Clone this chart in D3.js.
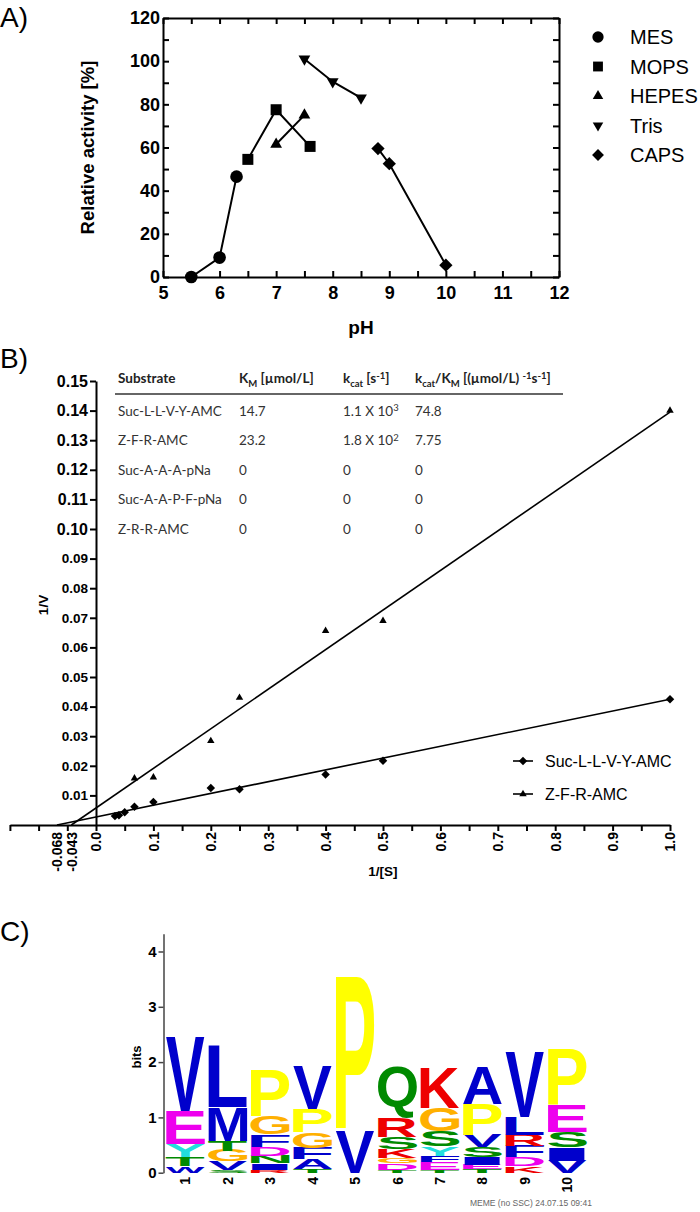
<!DOCTYPE html>
<html>
<head>
<meta charset="utf-8">
<script src="https://cdn.jsdelivr.net/npm/d3@7"></script>
<style>
body { margin:0; background:#fff; }
text { font-family: "Liberation Sans", Arial, sans-serif; }
.tbl { font-family: Lato, "Open Sans", sans-serif; }
</style>
</head>
<body>
<svg id="fig" width="700" height="1212"></svg>
<script>
// ---------- panel A : pH profile ----------
var bufferNames = ["MES", "MOPS", "HEPES", "Tris", "CAPS"];
var mesPH = [5.5, 6.0, 6.3],   mesAct = [0, 9, 46.5];
var mopsPH = [6.5, 7.0, 7.6],  mopsAct = [54.5, 77.5, 60.5];
var hepesPH = [7.0, 7.5],      hepesAct = [61.5, 75];
var trisPH = [7.5, 8.0, 8.5],  trisAct = [101, 90.5, 83];
var capsPH = [8.8, 9.0, 10.0], capsAct = [59.5, 52.5, 5.5];

// ---------- panel B : Lineweaver-Burk ----------
var substrates = ["Suc-L-L-V-Y-AMC", "Z-F-R-AMC"];
var llvyS = [0.033, 0.04, 0.05, 0.067, 0.1, 0.2, 0.25, 0.4, 0.5, 1.0];
var llvyV = [0.0030, 0.0033, 0.0043, 0.0062, 0.0078, 0.0125, 0.0121, 0.0171, 0.0217, 0.0425];
var zfrS = [0.067, 0.1, 0.2, 0.25, 0.4, 0.5, 1.0];
var zfrV = [0.0158, 0.0161, 0.0284, 0.0430, 0.0656, 0.0690, 0.1400];
var fitStartS = [-0.068, -0.043];   // x-intercepts
var fitEndV = [0.0425, 0.1395];     // fitted 1/V at 1/[S] = 1
var interceptLabels = [-0.068, -0.043];

var tableSubstrates = ["Suc-L-L-V-Y-AMC", "Z-F-R-AMC", "Suc-A-A-A-pNa", "Suc-A-A-P-F-pNa", "Z-R-R-AMC"];
var tableKm = ["14.7", "23.2", "0", "0", "0"];
var tableKcat = [[["1.1 X 10", ""], ["3", "sup"]], [["1.8 X 10", ""], ["2", "sup"]], "0", "0", "0"];
var tableKcatKm = ["74.8", "7.75", "0", "0", "0"];
var tableHead = [
  [["Substrate", ""]],
  [["K", ""], ["M", "sub"], [" [µmol/L]", ""]],
  [["k", ""], ["cat", "sub"], [" [s", ""], ["-1", "sup"], ["]", ""]],
  [["k", ""], ["cat", "sub"], ["/K", ""], ["M", "sub"], [" [(µmol/L) ", ""], ["-1", "sup"], ["s", ""], ["-1", "sup"], ["]", ""]]
];

// ---------- panel C : sequence logo ----------
var logoPos = [1, 2, 3, 4, 5, 6, 7, 8, 9, 10];
var logoLetters = ["WTYEV", "SVGTML", "RINDFGP", "TAFGPV", "VP", "TDGKSRQ", "TEFYSGK", "TEISVPA", "KDFRLV", "VISEP"];
var logoBits = [
  [0.12, 0.16, 0.24, 0.60, 1.34],
  [0.05, 0.15, 0.20, 0.18, 0.60, 1.10],
  [0.05, 0.12, 0.13, 0.17, 0.22, 0.32, 0.84],
  [0.07, 0.18, 0.20, 0.28, 0.42, 0.78],
  [0.76, 2.78],
  [0.05, 0.12, 0.10, 0.16, 0.22, 0.34, 0.92],
  [0.05, 0.14, 0.12, 0.16, 0.28, 0.42, 0.72],
  [0.06, 0.08, 0.14, 0.18, 0.22, 0.56, 0.68],
  [0.12, 0.17, 0.20, 0.20, 0.32, 1.18],
  [0.22, 0.24, 0.28, 0.48, 1.00]
];
var aaColor = {};
"ACFILVWM".split("").forEach(function(c){ aaColor[c] = "#0000cc"; });
"NQST".split("").forEach(function(c){ aaColor[c] = "#008a00"; });
"DE".split("").forEach(function(c){ aaColor[c] = "#ee00ee"; });
"KR".split("").forEach(function(c){ aaColor[c] = "#ee0000"; });
"HY".split("").forEach(function(c){ aaColor[c] = "#22dddd"; });
aaColor.G = "#ffb000"; aaColor.P = "#ffff00";

var svg = d3.select("#fig");

function styleAxis(g, size, weight, sw) {
  g.selectAll("text").style("font-size", size + "px").style("font-weight", weight).attr("fill", "#000");
  g.selectAll("path,line").attr("stroke", "#000").attr("stroke-width", sw);
}

// panel letters
[["A)", 27], ["B)", 368], ["C)", 941]].forEach(function(p){
  svg.append("text").attr("x", 0).attr("y", p[1]).style("font-size", "28px").text(p[0]);
});

// ===== A =====
var xA = d3.scaleLinear().domain([5, 12]).range([163, 559]);
var yA = d3.scaleLinear().domain([0, 120]).range([277, 18]);
var gA = svg.append("g");
var phTicks = d3.range(5, 12.01, 0.5), actTicks = d3.range(0, 121, 10);

gA.append("g").attr("transform", "translate(0,277)")
  .call(d3.axisBottom(xA).tickValues(phTicks).tickFormat(function(d){ return d % 1 === 0 ? d : ""; })
    .tickSize(-6).tickSizeOuter(0).tickPadding(9))
  .call(styleAxis, 18, "bold", 2);
gA.append("g").attr("transform", "translate(0,18)")
  .call(d3.axisTop(xA).tickValues(phTicks).tickFormat("").tickSize(-6).tickSizeOuter(0))
  .call(styleAxis, 18, "bold", 2);
gA.append("g").attr("transform", "translate(163,0)")
  .call(d3.axisLeft(yA).tickValues(actTicks).tickFormat(function(d){ return d % 20 === 0 ? d : ""; })
    .tickSize(-6).tickSizeOuter(0).tickPadding(3))
  .call(styleAxis, 18, "bold", 2);
gA.append("g").attr("transform", "translate(559,0)")
  .call(d3.axisRight(yA).tickValues(actTicks).tickFormat("").tickSize(-6).tickSizeOuter(0))
  .call(styleAxis, 18, "bold", 2);

gA.append("text").attr("transform", "translate(94,147.5) rotate(-90)").attr("text-anchor", "middle")
  .style("font-size", "18.5px").style("font-weight", "bold").text("Relative activity [%]");
gA.append("text").attr("x", 361).attr("y", 334).attr("text-anchor", "middle")
  .style("font-size", "19px").style("font-weight", "bold").text("pH");

var seriesA = [
  { x: mesPH, y: mesAct, sym: d3.symbolCircle, size: 125, rot: 0 },
  { x: mopsPH, y: mopsAct, sym: d3.symbolSquare, size: 121, rot: 0 },
  { x: hepesPH, y: hepesAct, sym: d3.symbolTriangle, size: 60, rot: 0 },
  { x: trisPH, y: trisAct, sym: d3.symbolTriangle, size: 60, rot: 180 },
  { x: capsPH, y: capsAct, sym: d3.symbolSquare, size: 88, rot: 45 }
];
var lineA = d3.line().x(function(d){ return xA(d[0]); }).y(function(d){ return yA(d[1]); });
seriesA.forEach(function(s, i){
  var pts = d3.zip(s.x, s.y);
  gA.append("path").datum(pts).attr("d", lineA).attr("fill", "none").attr("stroke", "#000").attr("stroke-width", 2);
  gA.selectAll(".m" + i).data(pts).join("path")
    .attr("transform", function(d){ return "translate(" + xA(d[0]) + "," + yA(d[1]) + ") rotate(" + s.rot + ")"; })
    .attr("d", d3.symbol(s.sym, s.size));
  // legend
  var ly = 37 + i * 29.5;
  gA.append("path").attr("transform", "translate(598," + ly + ") rotate(" + s.rot + ")")
    .attr("d", d3.symbol(s.sym, s.size * 0.8));
  gA.append("text").attr("x", 630).attr("y", ly).attr("dy", "0.36em")
    .style("font-size", "20px").text(bufferNames[i]);
});

// ===== B =====
var xB = d3.scaleLinear().domain([-0.15, 1.0]).range([9.9, 670]);
var yB = d3.scaleLinear().domain([0, 0.15]).range([825, 381]);
var gB = svg.append("g");

var gy = gB.append("g").attr("transform", "translate(" + xB(0) + ",0)")
  .call(d3.axisLeft(yB).tickValues(d3.range(1, 16).map(function(i){ return i / 100; }))
    .tickFormat(d3.format(".2f")).tickSize(6).tickSizeOuter(0).tickPadding(2))
  .call(styleAxis, 13, "bold", 2);
gy.selectAll("text").style("font-size", function(d){ return d > 0.095 ? "16px" : "13.5px"; });

gB.append("g").attr("transform", "translate(0," + yB(0) + ")")
  .call(d3.axisBottom(xB).tickValues(d3.range(-3, 21).map(function(i){ return i * 0.05; }))
    .tickFormat("").tickSize(6).tickSizeOuter(0))
  .call(styleAxis, 13, "bold", 2);
var xLab = interceptLabels.concat(d3.range(0, 11).map(function(i){ return i / 10; }));
var gxl = gB.append("g").attr("transform", "translate(0," + yB(0) + ")")
  .call(d3.axisBottom(xB).tickValues(xLab)
    .tickFormat(function(d){ return d < 0 ? "-" + d3.format(".3f")(-d) : d3.format(".1f")(d); })
    .tickSize(0).tickSizeOuter(0));
gxl.select(".domain").remove();
gxl.selectAll("text").attr("transform", "rotate(-90)").attr("x", -7).attr("y", 0).attr("dy", "0.35em")
  .style("text-anchor", "end").style("font-size", "14px").style("font-weight", "bold");

gB.append("text").attr("transform", "translate(48,605) rotate(-90)").attr("text-anchor", "middle")
  .style("font-size", "13.5px").style("font-weight", "bold").text("1/V");
gB.append("text").attr("x", xB(0.5)).attr("y", 876).attr("text-anchor", "middle")
  .style("font-size", "13.5px").style("font-weight", "bold").text("1/[S]");

var lineB = d3.line().x(function(d){ return xB(d[0]); }).y(function(d){ return yB(d[1]); });
var seriesB = [
  { s: llvyS, v: llvyV, sym: d3.symbolSquare, size: 36, rot: 45 },
  { s: zfrS, v: zfrV, sym: d3.symbolTriangle, size: 24, rot: 0 }
];
seriesB.forEach(function(sr, i){
  gB.append("path").datum([[fitStartS[i], 0], [1.0, fitEndV[i]]]).attr("d", lineB)
    .attr("fill", "none").attr("stroke", "#000").attr("stroke-width", 1.6);
  gB.selectAll(".b" + i).data(d3.zip(sr.s, sr.v)).join("path")
    .attr("transform", function(d){ return "translate(" + xB(d[0]) + "," + yB(d[1]) + ") rotate(" + sr.rot + ")"; })
    .attr("d", d3.symbol(sr.sym, sr.size));
  var ly = 761 + i * 33;
  gB.append("line").attr("x1", 513).attr("x2", 533).attr("y1", ly).attr("y2", ly).attr("stroke", "#000").attr("stroke-width", 1.6);
  gB.append("path").attr("transform", "translate(523," + ly + ") rotate(" + sr.rot + ")").attr("d", d3.symbol(sr.sym, sr.size));
  gB.append("text").attr("x", 545).attr("y", ly).attr("dy", "0.36em").style("font-size", "16px").text(substrates[i]);
});

// table
var colX = [118, 239, 343, 415];
function richText(sel, segs) {
  if (typeof segs === "string") segs = [[segs, ""]];
  var shift = 0;
  segs.forEach(function(sg){
    var target = sg[1] === "sub" ? 3.5 : sg[1] === "sup" ? -4.5 : 0;
    sel.append("tspan").attr("dy", target - shift)
      .style("font-size", sg[1] ? "9.5px" : null).text(sg[0]);
    shift = target;
  });
}
var gT = gB.append("g").attr("class", "tbl");
tableHead.forEach(function(h, j){
  var t = gT.append("text").attr("class", "tbl").attr("x", colX[j]).attr("y", 383)
    .style("font-size", "13.5px").style("font-weight", "bold").attr("fill", "#222");
  richText(t, h);
});
gT.append("line").attr("x1", 115).attr("x2", 563).attr("y1", 394).attr("y2", 394).attr("stroke", "#333").attr("stroke-width", 1.5);
var tableCols = [tableSubstrates, tableKm, tableKcat, tableKcatKm];
tableSubstrates.forEach(function(s, r){
  var ry = yB(0.14 - r * 0.01) + 5;
  tableCols.forEach(function(col, j){
    var t = gT.append("text").attr("class", "tbl").attr("x", colX[j]).attr("y", ry)
      .style("font-size", "13.5px").attr("fill", "#333");
    richText(t, col[r]);
  });
});

// ===== C =====
var yC = d3.scaleLinear().domain([0, 4.32]).range([1172.7, 933.8]);
var xC = d3.scaleBand().domain(logoPos).range([164.5, 588]).paddingInner(0.08).paddingOuter(0.03);
var gC = svg.append("g");
gC.append("g").attr("transform", "translate(163.5,0)")
  .call(d3.axisLeft(yC).tickValues([0, 1, 2, 3, 4]).tickFormat(d3.format("d")).tickSize(5).tickSizeOuter(0).tickPadding(2))
  .call(styleAxis, 15, "bold", 1.5)
  .selectAll("path,line").attr("stroke", "#444");
gC.append("text").attr("transform", "translate(141,1057) rotate(-90)").attr("text-anchor", "middle")
  .style("font-size", "13px").style("font-weight", "bold").text("bits");

var ctx = document.createElement("canvas").getContext("2d");
ctx.font = "bold 100px 'Liberation Sans'";
function inkBox(ch) {
  var m = ctx.measureText(ch);
  return { l: m.actualBoundingBoxLeft, r: m.actualBoundingBoxRight, a: m.actualBoundingBoxAscent, d: m.actualBoundingBoxDescent };
}
logoPos.forEach(function(p, i){
  var cum = 0, bx = xC(p), bw = xC.bandwidth();
  logoLetters[i].split("").forEach(function(ch, k){
    var h = logoBits[i][k];
    var top = yC(cum + h), ht = yC(cum) - yC(cum + h);
    var b = inkBox(ch);
    var sx = bw / (b.l + b.r), sy = ht / (b.a + b.d);
    gC.append("text")
      .attr("transform", "translate(" + (bx + b.l * sx) + "," + (top + b.a * sy) + ") scale(" + sx + "," + sy + ")")
      .style("font-size", "100px").style("font-weight", "bold").attr("fill", aaColor[ch]).text(ch);
    cum += h;
  });
});
gC.selectAll(".pl").data(logoPos).join("text")
  .attr("transform", function(d){ return "translate(" + (xC(d) + xC.bandwidth() / 2) + ",1177) rotate(-90)"; })
  .attr("text-anchor", "end").attr("dy", "0.36em")
  .style("font-size", "14px").style("font-weight", "bold").text(function(d){ return d; });
gC.append("text").attr("x", 470).attr("y", 1206).style("font-size", "8.5px").attr("fill", "#666")
  .text("MEME (no SSC) 24.07.15 09:41");
</script>
</body>
</html>
